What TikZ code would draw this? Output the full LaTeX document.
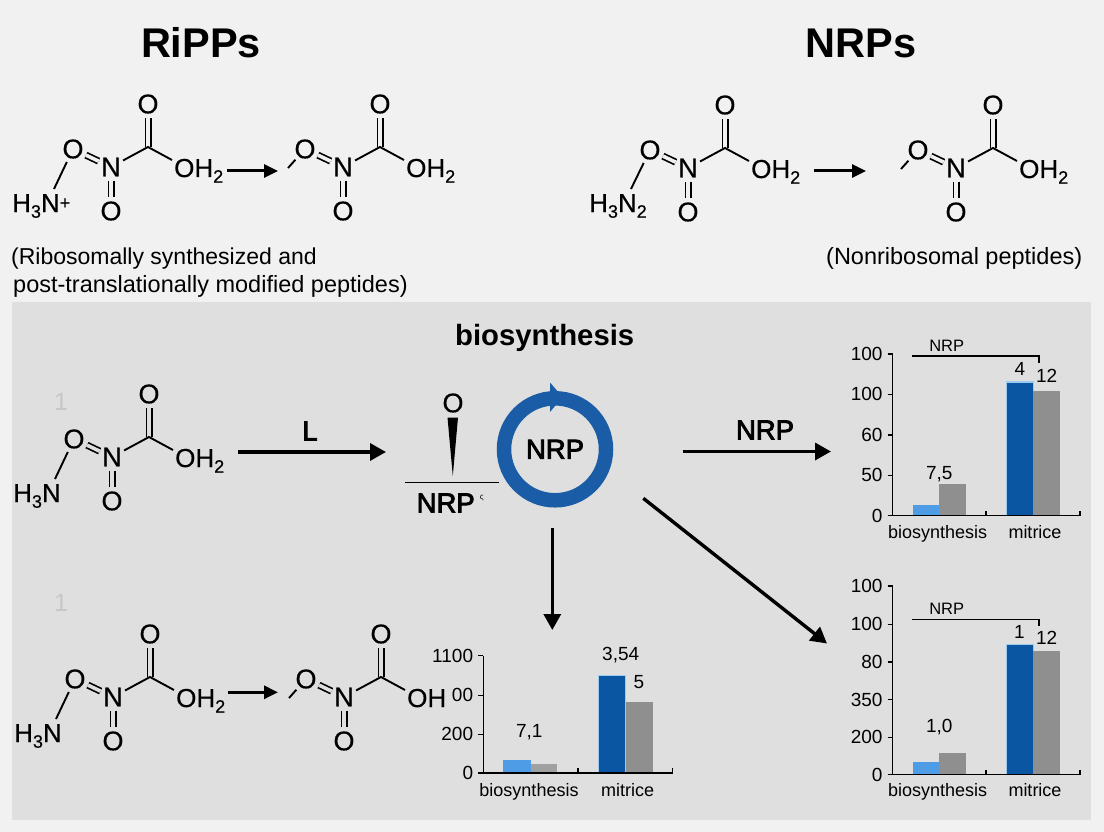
\documentclass[tikz,border=0pt]{standalone}
\usepackage{fontspec}
\usetikzlibrary{arrows.meta,calc}
\setmainfont{Liberation Sans}
\newfontfamily\medfont[FakeBold=3]{Liberation Sans}
\newfontfamily\atomfont[FakeBold=0.5]{Liberation Sans}
\newcommand\fs[1]{\fontsize{#1}{#1}\selectfont}
\newcommand\lowd[1]{\raisebox{-.22em}{\fs{18}#1}}
\definecolor{pagebg}{HTML}{F1F1F1}
\definecolor{panelbg}{HTML}{DFDFDF}
\definecolor{ringblue}{HTML}{1A5CA6}
\definecolor{barblue}{HTML}{0A56A3}
\definecolor{barlight}{HTML}{4F9CE6}
\definecolor{bargray}{HTML}{8F8F8F}
\definecolor{fringe}{HTML}{9CCBEF}
\tikzset{
  atom/.style={circle,inner sep=0pt,minimum size=27pt,font=\atomfont\fs{27}},
  atomtext/.style={inner sep=0pt,font=\atomfont\fs{26}},
  bond/.style={line width=1.9pt},
  dblbond/.style={line width=1.7pt,double=#1,double distance=3.6pt},
  rxn/.style={line width=3pt,-{Triangle[length=14pt,width=13pt]}},
  flow/.style={line width=3.4pt,-{Triangle[length=16pt,width=17pt]}},
  title/.style={inner sep=0pt,font=\fs{41.5}\bfseries},
  caption/.style={inner sep=0pt,font=\fs{23.5},anchor=base west},
  medlabel/.style={inner sep=0pt,font=\medfont\fs{27.5}},
  tick/.style={line width=1.4pt},
  axislab/.style={inner sep=0pt,font=\fs{19},text depth=0pt},
  catlab/.style={inner sep=0pt,font=\fs{18},anchor=base},
  smalllab/.style={inner sep=0pt,font=\fs{16.5},text depth=0pt},
  faint/.style={inner sep=0pt,font=\fs{25},text=black!22}
}
% #1 prefix, #2 x, #3 y, #4 OH text, #5 background colour
\newcommand\molecore[5]{%
  \begin{scope}[shift={(#2,#3)}]
    \node[atom] (#1-N) at (0,0) {N};
    \node[atom] (#1-Ol) at (-38,-18) {O};
    \coordinate (#1-C) at (37,-20);
    \node[atom] (#1-Ot) at (37,-63) {O};
    \node[atom] (#1-Ob) at (0,44) {O};
    \node[atomtext,anchor=base west] (#1-oh) at (63,10) {#4};
    \coordinate (#1-ohb) at (61,-7);
    \draw[dblbond=#5] (#1-Ol) -- (#1-N);
    \draw[dblbond=#5] (#1-N) -- (#1-Ob);
    \draw[dblbond=#5] (#1-C) -- (#1-Ot);
    \draw[bond] (#1-N) -- (#1-C) -- (#1-ohb);
  \end{scope}}
% amine tail
\newcommand\amine[4]{%
  \begin{scope}[shift={(#2,#3)}]
    \node[atomtext,anchor=base west] (#1-h) at (-99,45) {#4};
    \coordinate (#1-hb) at (-57,22);
    \draw[bond] (#1-Ol) -- (#1-hb);
  \end{scope}}
% stub
\newcommand\stub[3]{%
  \begin{scope}[shift={(#2,#3)}]
    \coordinate (#1-s) at (-55,1);
    \draw[bond] (#1-Ol) -- (#1-s);
  \end{scope}}
% #1 prefix, #2 axis x, #3 top, #4 base, #5 mid tick, #6 right end, #7 ticks y/label
\newcommand\chartframe[7]{%
  \draw[tick] (#2,#3) -- (#2,#4);
  \draw[tick] (#2-5,#4) -- (#6,#4);
  \draw[tick] (#5,#4) -- (#5,#4-5);
  \draw[tick] (#6,#4) -- (#6,#4-5);
  \foreach \ty/\tl [count=\ti] in {#7} {
    \draw[tick] (#2-5,\ty) -- (#2,\ty);
    \node[axislab,anchor=east] (#1-t\ti) at (#2-10,\ty) {\tl};
  }}
\newcommand\barfill[5]{\fill[#1] (#2,#3) rectangle (#4,#5);}
\newcommand\bluebar[4]{%
  \fill[fringe] (#1-1,#2-1.5) rectangle (#3+1,#4);
  \fill[barblue] (#1,#2) rectangle (#3,#4);}
\begin{document}
\begin{tikzpicture}[x=1pt,y=-1pt]
\useasboundingbox (0,0) rectangle (1104,832);
\fill[pagebg] (0,0) rectangle (1104,832);
\fill[panelbg] (12,302) rectangle (1091,820);

% titles
\node[title] (tRi) at (201,43) {RiPPs};
\node[title] (tNr) at (861,43) {NRPs};
\node[inner sep=0pt,font=\fs{29.3}\bfseries,text depth=0pt] (tBio) at (544.7,335) {biosynthesis};

% RiPPs row
\molecore{A}{111}{167}{OH\lowd{2}}{pagebg}
\amine{A}{111}{167}{H\lowd{3}N\raisebox{.12em}{\fs{18}+}}
\molecore{B}{343}{167}{OH\lowd{2}}{pagebg}
\stub{B}{343}{167}
\coordinate (ra1) at (227,171); \coordinate (ra2) at (278,171);
\draw[rxn] (ra1) -- (ra2);
\node[caption,font=\fs{23}] (capA) at (11,265) {(Ribosomally synthesized and};
\node[caption] (capB) at (13,292) {post-translationally modified peptides)};

% NRPs row
\molecore{C}{688}{168}{OH\lowd{2}}{pagebg}
\amine{C}{688}{167}{H\lowd{3}N\lowd{2}}
\molecore{D}{956}{168}{OH\lowd{2}}{pagebg}
\stub{D}{956}{168}
\coordinate (rb1) at (814,171); \coordinate (rb2) at (866,171);
\draw[rxn] (rb1) -- (rb2);
\node[caption] (capC) at (826,265) {(Nonribosomal peptides)};

% panel row 1
\node[faint] (f1) at (61,402) {1};
\molecore{E}{112}{457}{OH\lowd{2}}{panelbg}
\amine{E}{112}{457}{H\lowd{3}N}
\coordinate (l1) at (238,452); \coordinate (l2) at (386,452);
\draw[flow] (l1) -- (l2);
\node[medlabel] (lL) at (310,431) {L};

% wedge + NRP
\node[atom] (wO) at (453,403) {O};
\coordinate (wL) at (447.5,417.5); \coordinate (wR) at (458,417.5); \coordinate (wT) at (452.8,476);
\fill (wL) -- (wR) -- (wT) -- cycle;
\coordinate (rl1) at (405,482.7); \coordinate (rl2) at (499,482.7);
\draw[line width=1.4pt] (rl1) -- (rl2);
\node[medlabel] (nrpA) at (445.7,503) {NRP};
\node[inner sep=0pt,font=\fs{8}] (nrpS) at (481.7,498) {ς};

% ring
\node[circle,draw=ringblue,line width=14.5pt,minimum size=102pt,inner sep=0pt,
      font=\medfont\fs{27.5}] (ring) at (555,449.3) {NRP};
\fill[ringblue] (550,382.5) -- (562.5,397) -- (550,412) -- cycle;

% panel arrows
\coordinate (o1) at (682.7,451.5); \coordinate (o2) at (831,451.5);
\draw[flow] (o1) -- (o2);
\node[medlabel] (lN) at (765,430) {NRP};
\coordinate (d1) at (552.3,528); \coordinate (d2) at (552.3,630);
\draw[flow] (d1) -- (d2);
\coordinate (g1) at (643.3,498.3); \coordinate (g2) at (827,643.5);
\draw[flow] (g1) -- (g2);

% panel row 2
\node[faint] (f2) at (61,603) {1};
\molecore{F}{113}{697}{OH\lowd{2}}{panelbg}
\amine{F}{113}{697}{H\lowd{3}N}
\molecore{G}{344}{697}{OH}{panelbg}
\stub{G}{344}{697}
\coordinate (rc1) at (228,692.3); \coordinate (rc2) at (278,692.3);
\draw[rxn] (rc1) -- (rc2);

% chart top right
\barfill{barlight}{912.7}{505}{940}{515.7}
\barfill{bargray}{939}{484.3}{966}{515.7}
\bluebar{1006.7}{382.7}{1033.3}{515.7}
\barfill{bargray}{1033.3}{391}{1060}{515.7}
\chartframe{c1}{892.7}{354}{515.7}{986}{1080}{354/100,394.3/100,435/60,475.3/50,515.7/0}
\coordinate (b1a) at (912.3,356); \coordinate (b1b) at (1039,356); \coordinate (b1c) at (1039,362.7);
\draw[tick] (b1a) -- (b1b) -- (b1c);
\node[smalllab] (c1n) at (946.7,345.7) {NRP};
\node[axislab] (c1a) at (939.3,473.3) {7,5};
\node[axislab] (c1b) at (1020,369) {4};
\node[axislab] (c1c) at (1046.7,375.7) {12};
\node[catlab] (c1x) at (937.7,538.5) {biosynthesis};
\node[catlab] (c1y) at (1035,538.5) {mitrice};

% chart bottom right
\barfill{barlight}{912.7}{762}{940}{774.7}
\barfill{bargray}{939}{753}{966}{774.7}
\bluebar{1006.7}{645.3}{1033.3}{774.7}
\barfill{bargray}{1033.3}{651.3}{1060}{774.7}
\chartframe{c3}{892.7}{586}{774.7}{986}{1080}{586/100,624.3/100,662/80,699.7/350,737.3/200,774.7/0}
\coordinate (b3a) at (912.3,619.3); \coordinate (b3b) at (1039,619.3); \coordinate (b3c) at (1039,626);
\draw[tick] (b3a) -- (b3b) -- (b3c);
\node[smalllab] (c3n) at (946.7,608.7) {NRP};
\node[axislab] (c3a) at (939.3,725.7) {1,0};
\node[axislab] (c3b) at (1019.3,631.7) {1};
\node[axislab] (c3c) at (1046.7,637.7) {12};
\node[catlab] (c3x) at (937.7,796.7) {biosynthesis};
\node[catlab] (c3y) at (1035,796.7) {mitrice};

% chart bottom centre
\barfill{barlight}{503.3}{759.7}{530.7}{773}
\barfill{bargray!85!white}{530.7}{763.7}{557}{773}
\bluebar{598.7}{676}{625.3}{773}
\barfill{bargray}{626}{702}{652.7}{773}
\chartframe{c2}{483.3}{655.7}{773}{578}{672.7}{655.7/1100,695.3/00,734.3/200,773/0}
\node[axislab] (c2a) at (529.3,731) {7,1};
\node[axislab] (c2b) at (620.7,654.3) {3,54};
\node[axislab] (c2c) at (639,681.7) {5};
\node[catlab] (c2x) at (529,796) {biosynthesis};
\node[catlab] (c2y) at (627.7,796) {mitrice};
\end{tikzpicture}
\end{document}
